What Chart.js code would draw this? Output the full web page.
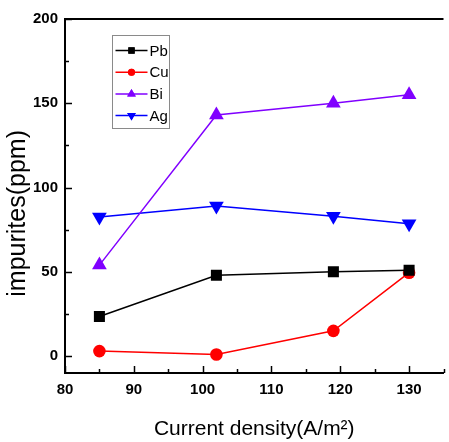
<!DOCTYPE html>
<html>
<head>
<meta charset="utf-8">
<script src="https://cdn.jsdelivr.net/npm/chart.js@4"></script>
<style>
	html, body { margin: 0; padding: 0; background: #fff; overflow: hidden; }
	#wrap { width: 452px; height: 442px; }
</style>
</head>
<body>
<div id="wrap"><canvas id="chart" width="452" height="442"></canvas></div>
<script>
// x values (current density, A/m2)
const densities = [85, 102, 119, 130];

// impurity contents in ppm
const pbValues = [23.5, 48, 50, 51];
const cuValues = [3, 1, 15, 49.5];
const biValues = [54, 143, 150, 155];
const agValues = [82.5, 89, 83, 78.5];

const seriesNames = ['Pb', 'Cu', 'Bi', 'Ag'];
const xTicks = [80, 90, 100, 110, 120, 130];
const yTicks = [0, 50, 100, 150, 200];

const family = "'Liberation Sans', Arial, sans-serif";

function toPoints(values) {
	return values.map((v, i) => ({ x: densities[i], y: v }));
}

function makeSet(label, values, color, style, radius, rotation) {
	return {
		label: label,
		data: toPoints(values),
		borderColor: color,
		backgroundColor: color,
		borderWidth: 1.5,
		pointStyle: style,
		pointRadius: radius,
		pointHoverRadius: radius,
		pointRotation: rotation || 0,
		pointBorderWidth: 0,
		tension: 0,
	};
}

// draws inner ticks, the top frame line and the boxed legend
const framePlugin = {
	id: 'frame',
	afterDraw(chart) {
		const ctx = chart.ctx;
		const area = chart.chartArea;
		const xs = chart.scales.x;
		const ys = chart.scales.y;
		ctx.save();
		ctx.strokeStyle = '#000';

		// top line
		ctx.lineWidth = 2;
		ctx.beginPath();
		ctx.moveTo(area.left - 1, area.top);
		ctx.lineTo(area.right, area.top);
		ctx.stroke();

		// x ticks, pointing inside
		ctx.lineWidth = 1.5;
		for (let v = 80; v <= 135; v += 5) {
			const px = Math.round(xs.getPixelForValue(v)) + 0.5;
			const len = v % 10 === 0 ? 7 : 4;
			ctx.beginPath();
			ctx.moveTo(px, area.bottom);
			ctx.lineTo(px, area.bottom - len);
			ctx.stroke();
		}
		// y ticks, pointing inside
		for (let v = 0; v <= 200; v += 25) {
			const py = Math.round(ys.getPixelForValue(v)) + 0.5;
			const len = v % 50 === 0 ? 7 : 4;
			ctx.beginPath();
			ctx.moveTo(area.left, py);
			ctx.lineTo(area.left + len, py);
			ctx.stroke();
		}

		// legend box
		const bx = area.left + 47.5;
		const by = area.top + 16.5;
		ctx.lineWidth = 1;
		ctx.strokeStyle = '#8a8a8a';
		ctx.strokeRect(bx, by, 57, 93);

		ctx.font = '15px ' + family;
		ctx.textBaseline = 'middle';
		ctx.textAlign = 'left';
		chart.data.datasets.forEach((ds, i) => {
			const y = by + 15 + i * 21.7;
			ctx.strokeStyle = ds.borderColor;
			ctx.lineWidth = 1.5;
			ctx.beginPath();
			ctx.moveTo(bx + 3, y);
			ctx.lineTo(bx + 35, y);
			ctx.stroke();
			const r = ds.pointStyle === 'rect' ? 4.5 : (ds.pointStyle === 'circle' ? 3.5 : 5);
			ctx.fillStyle = ds.borderColor;
			ctx.beginPath();
			Chart.helpers.drawPoint(ctx, {
				pointStyle: ds.pointStyle,
				radius: r,
				rotation: ds.pointRotation,
				borderWidth: 0,
			}, bx + 19, y);
			ctx.fill();
			ctx.fillStyle = '#000';
			ctx.fillText(ds.label, bx + 37, y + 1);
		});
		ctx.restore();
	},
};

const ctx = document.getElementById('chart').getContext('2d');
new Chart(ctx, {
	type: 'line',
	data: {
		datasets: [
			makeSet(seriesNames[0], pbValues, '#000000', 'rect', 7.8),
			makeSet(seriesNames[1], cuValues, '#ff0000', 'circle', 6.3),
			makeSet(seriesNames[2], biValues, '#8000ff', 'triangle', 8.5),
			makeSet(seriesNames[3], agValues, '#0000ff', 'triangle', 8.5, 180),
		],
	},
	options: {
		responsive: false,
		animation: false,
		events: [],
		layout: { padding: { top: 19, right: 2, left: 0, bottom: 0 } },
		plugins: {
			legend: { display: false },
			tooltip: { enabled: false },
		},
		scales: {
			x: {
				type: 'linear',
				min: 80,
				max: 135,
				afterFit(scale) { scale.height = 69; },
				afterBuildTicks(scale) {
					scale.ticks = xTicks.map(v => ({ value: v }));
				},
				grid: { display: false, drawTicks: false },
				border: { display: true, color: '#000', width: 2 },
				ticks: {
					padding: 8,
					color: '#000',
					maxRotation: 0,
					font: { family: family, size: 15, weight: 'bold' },
				},
				title: {
					display: true,
					text: 'Current density(A/m²)',
					color: '#000',
					padding: { top: 9, bottom: 0 },
					font: { family: family, size: 21 },
				},
			},
			y: {
				type: 'linear',
				min: -10,
				max: 200,
				afterFit(scale) { scale.width = 65; },
				afterBuildTicks(scale) {
					scale.ticks = yTicks.map(v => ({ value: v }));
				},
				grid: { display: false, drawTicks: false },
				border: { display: true, color: '#000', width: 2 },
				ticks: {
					padding: 7,
					color: '#000',
					font: { family: family, size: 15, weight: 'bold' },
				},
				title: {
					display: true,
					// trailing spaces move the centred title down a little
					text: 'impurites(ppm)     ',
					color: '#000',
					padding: { top: 3, bottom: 0 },
					font: { family: family, size: 25 },
				},
			},
		},
	},
	plugins: [framePlugin],
});
</script>
</body>
</html>
